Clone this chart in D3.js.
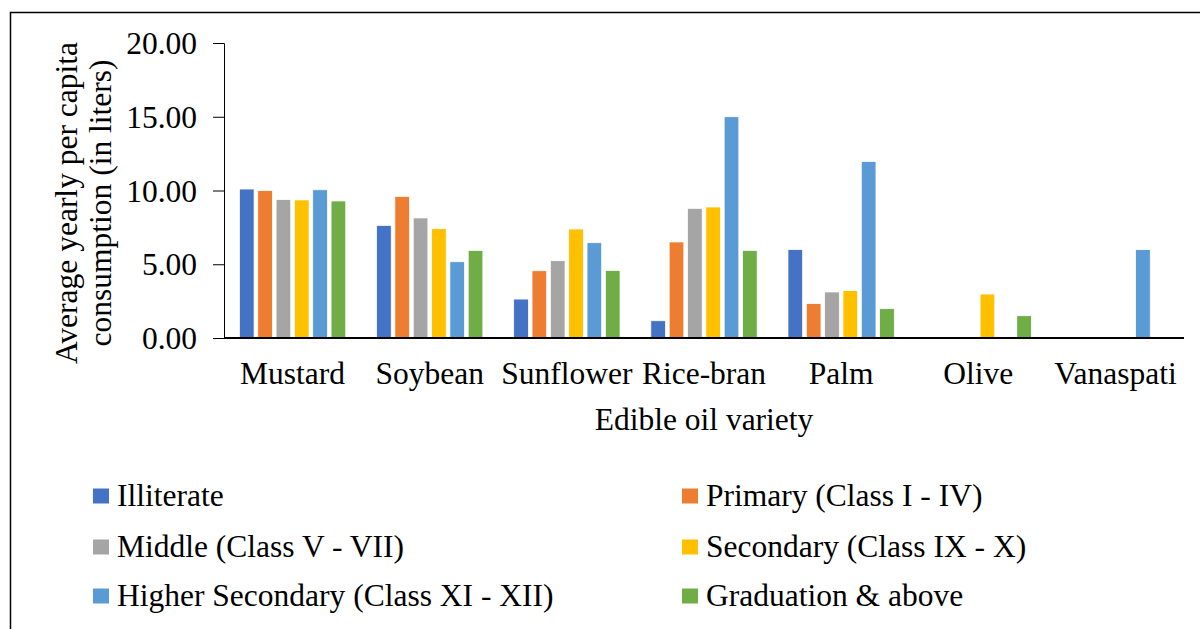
<!DOCTYPE html>
<html>
<head>
<meta charset="utf-8">
<script src="https://cdn.jsdelivr.net/npm/d3@7"></script>
<style>
  html, body { margin: 0; padding: 0; background: #fff; }
  svg { display: block; font-family: "Liberation Serif", "Times New Roman", serif; }
</style>
</head>
<body>
<div id="chart"></div>
<script>
var width = 1200, height = 629;
var fontSize = 31.5;

// data
var oils = ["Mustard", "Soybean", "Sunflower", "Rice-bran", "Palm", "Olive", "Vanaspati"];
var levels = [
  "Illiterate",
  "Primary (Class I - IV)",
  "Middle (Class V - VII)",
  "Secondary (Class IX - X)",
  "Higher Secondary (Class XI - XII)",
  "Graduation & above"
];
var illiterate = [10.10, 7.63, 2.64, 1.17, 5.99, 0, 0];
var primary = [9.99, 9.60, 4.56, 6.51, 2.33, 0, 0];
var middle = [9.38, 8.14, 5.24, 8.79, 3.12, 0, 0];
var secondary = [9.36, 7.41, 7.39, 8.88, 3.21, 2.98, 0];
var higherSecondary = [10.05, 5.17, 6.46, 15.00, 11.97, 0, 5.99];
var graduation = [9.29, 5.94, 4.58, 5.94, 1.99, 1.51, 0];
var yTicks = [0, 5, 10, 15, 20];

var series = [illiterate, primary, middle, secondary, higherSecondary, graduation];
var colors = ["#4472C4", "#ED7D31", "#A5A5A5", "#FFC000", "#5B9BD5", "#70AD47"];

var plot = { left: 224, right: 1184, top: 43, bottom: 338 };

var svg = d3.select("#chart")
  .append("svg")
  .attr("width", width)
  .attr("height", height);

// outer frame (runs off the right and bottom edges)
svg.append("rect")
  .attr("x", 10.5)
  .attr("y", 12.5)
  .attr("width", 1300)
  .attr("height", 800)
  .attr("fill", "none")
  .attr("stroke", "#000")
  .attr("stroke-width", 1.5);

var x0 = d3.scaleBand()
  .domain(oils)
  .range([plot.left, plot.right])
  .paddingInner(0.198)
  .paddingOuter(0.099);

var x1 = d3.scaleBand()
  .domain(d3.range(levels.length))
  .range([0, x0.bandwidth()])
  .paddingInner(0.2)
  .paddingOuter(0.1);

var y = d3.scaleLinear()
  .domain([0, 20])
  .range([plot.bottom, plot.top]);

// bars
var groups = svg.append("g").attr("class", "bars")
  .selectAll("g")
  .data(oils)
  .enter()
  .append("g")
  .attr("transform", function(d) { return "translate(" + x0(d) + ",0)"; });

groups.selectAll("rect")
  .data(function(d, i) {
    return series.map(function(s, j) { return { level: j, value: s[i] }; });
  })
  .enter()
  .filter(function(d) { return d.value > 0; })
  .append("rect")
  .attr("x", function(d) { return x1(d.level); })
  .attr("y", function(d) { return y(d.value); })
  .attr("width", x1.bandwidth())
  .attr("height", function(d) { return y(0) - y(d.value); })
  .attr("fill", function(d) { return colors[d.level]; })
  .attr("stroke", "#fff")
  .attr("stroke-width", 0.75);

// y axis
var yAxis = svg.append("g")
  .attr("transform", "translate(" + plot.left + ",0)")
  .call(d3.axisLeft(y).tickValues(yTicks).tickSize(11).tickPadding(16)
    .tickFormat(d3.format(".2f")));
yAxis.select(".domain").attr("stroke", "#000").attr("stroke-width", 1);
yAxis.selectAll(".tick line").attr("stroke", "#000").attr("stroke-width", 1);
yAxis.selectAll("text")
  .attr("font-size", fontSize)
  .attr("font-family", "Liberation Serif")
  .attr("fill", "#000")
  .attr("dy", "0.34em");

// x axis
var xAxis = svg.append("g")
  .attr("transform", "translate(0," + plot.bottom + ")")
  .call(d3.axisBottom(x0).tickSize(0).tickPadding(24));
xAxis.select(".domain")
  .attr("d", "M" + plot.left + ",0H" + plot.right)
  .attr("stroke", "#000")
  .attr("stroke-width", 2);
xAxis.selectAll("text")
  .attr("font-size", fontSize)
  .attr("font-family", "Liberation Serif")
  .attr("fill", "#000")
  .attr("dy", "0.71em");

// axis titles
svg.append("text")
  .attr("x", (plot.left + plot.right) / 2)
  .attr("y", 430)
  .attr("text-anchor", "middle")
  .attr("font-size", fontSize)
  .text("Edible oil variety");

var yTitle = svg.append("text")
  .attr("transform", "translate(0,203) rotate(-90)")
  .attr("text-anchor", "middle")
  .attr("font-size", fontSize);
yTitle.append("tspan").attr("x", 0).attr("y", 77).text("Average yearly per capita");
yTitle.append("tspan").attr("x", 0).attr("y", 111).text("consumption (in liters)");

// legend
var legendCols = [93, 682];
var legendRows = [496, 547, 596];
var legend = svg.append("g").attr("class", "legend")
  .selectAll("g")
  .data(levels)
  .enter()
  .append("g")
  .attr("transform", function(d, i) {
    return "translate(" + legendCols[i % 2] + "," + legendRows[Math.floor(i / 2)] + ")";
  });

legend.append("rect")
  .attr("x", 0)
  .attr("y", -7.5)
  .attr("width", 16)
  .attr("height", 15)
  .attr("fill", function(d, i) { return colors[i]; });

legend.append("text")
  .attr("x", 24)
  .attr("y", 0)
  .attr("dy", "0.33em")
  .attr("font-size", fontSize)
  .text(function(d) { return d; });
</script>
</body>
</html>
